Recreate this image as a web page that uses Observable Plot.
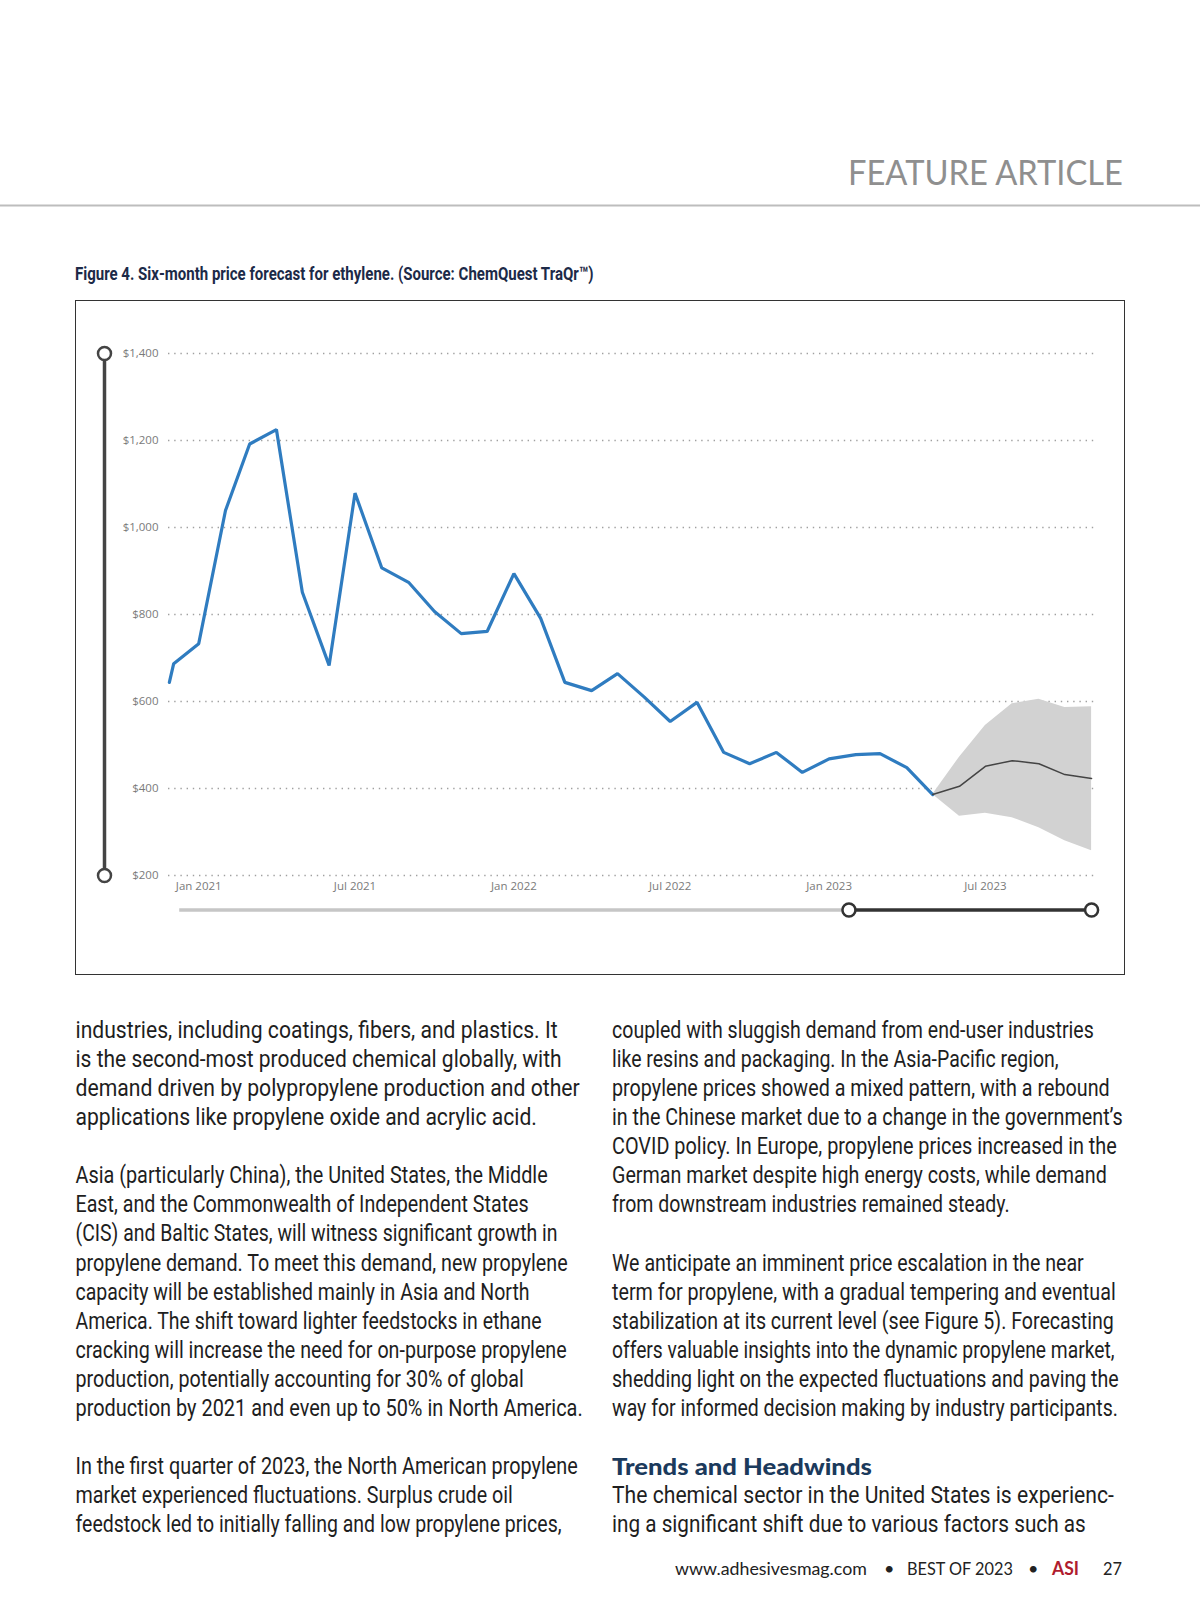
<!DOCTYPE html>
<html><head><meta charset="utf-8">
<script src="https://cdn.jsdelivr.net/npm/d3@7"></script>
<script src="https://cdn.jsdelivr.net/npm/@observablehq/plot@0.6"></script>
<style>
html,body{margin:0;padding:0;background:#fff;}
#page{position:relative;width:1200px;height:1613px;overflow:hidden;background:#fff;}
#text{position:absolute;left:0;top:0;}
#frame{position:absolute;left:75px;top:300px;width:1050px;height:675px;box-sizing:border-box;border:1px solid #333;}
#chart{position:absolute;left:75px;top:300px;}
</style></head><body>
<div id="page"><svg id="text" width="1200" height="1613"></svg><div id="frame"></div><div id="chart"></div></div>
<script>
// ---- chart data ----
const actualDates = ["2020-11-28","2020-12-03","2021-01-01","2021-02-01","2021-03-01","2021-04-01","2021-05-01","2021-06-01","2021-07-01","2021-08-01","2021-09-01","2021-10-01","2021-11-01","2021-12-01","2022-01-01","2022-02-01","2022-03-01","2022-04-01","2022-05-01","2022-06-01","2022-07-01","2022-08-01","2022-09-01","2022-10-01","2022-11-01","2022-12-01","2023-01-01","2023-02-01","2023-03-01","2023-04-01","2023-05-01"];
const actualValues = [644, 687, 733, 1039, 1192, 1225, 851, 683, 1079, 907, 874, 807, 756, 761, 894, 791, 644, 625, 664, 610, 554, 598, 483, 457, 483, 437, 468, 478, 480, 448, 386];
const forecastDates = ["2023-05-01","2023-06-01","2023-07-01","2023-08-01","2023-09-01","2023-10-01","2023-11-01"];
const forecastValues = [386, 405, 451, 464, 457, 432, 423];
const forecastUpper = [386, 472, 545, 595, 605, 586, 588];
const forecastLower = [386, 336, 343, 333, 310, 280, 257];
const yTicks = [200, 400, 600, 800, 1000, 1200, 1400];
const xTickDates = ["2021-01-01","2021-07-01","2022-01-01","2022-07-01","2023-01-01","2023-07-01"];
const xDomain = ["2020-11-27","2023-11-09"];
const sliderDates = ["2020-12-10","2023-01-24","2023-11-01"];

const actual = actualDates.map((d,i)=>({date:new Date(d), value:actualValues[i]}));
const forecast = forecastDates.map((d,i)=>({date:new Date(d), value:forecastValues[i], upper:forecastUpper[i], lower:forecastLower[i]}));
const [sA, sB, sC] = sliderDates.map(d=>new Date(d));
const x0 = new Date(xDomain[0]);
const fmtY = d => "$" + d3.format(",")(d);

const chart = Plot.plot({
  width: 1048, height: 673,
  marginLeft: 93, marginRight: 25, marginTop: 53, marginBottom: 98,
  style: {fontFamily: "'Open Sans', 'Noto Sans', sans-serif", fontSize: "11.5px", color: "#7a7a7a", background: "transparent", overflow: "visible"},
  x: {type: "utc", domain: xDomain.map(d=>new Date(d))},
  y: {domain: [200, 1400]},
  marks: [
    Plot.gridY(yTicks, {stroke: "#a0a0a0", strokeOpacity: 1, strokeWidth: 1.4, strokeDasharray: "1.4,4.8"}),
    Plot.axisY(yTicks, {tickSize: 0, tickPadding: 10, tickFormat: fmtY, fill: "#7a7a7a"}),
    Plot.axisX(xTickDates.map(d=>new Date(d)), {tickSize: 0, tickPadding: 6, tickFormat: d3.utcFormat("%b %Y"), fill: "#7a7a7a"}),
    Plot.areaY(forecast, {x: "date", y1: "lower", y2: "upper", fill: "#d2d2d2"}),
    Plot.line(actual, {x: "date", y: "value", stroke: "#2f7cc0", strokeWidth: 3.2, strokeLinejoin: "miter"}),
    Plot.line(forecast, {x: "date", y: "value", stroke: "#444", strokeWidth: 1.5}),
    // vertical range slider (left)
    Plot.ruleX([x0], {y1: 200, y2: 1400, dx: -64, stroke: "#444", strokeWidth: 3.5}),
    Plot.dot([200, 1400], {x: () => x0, y: d => d, dx: -64, r: 6.5, fill: "white", stroke: "#444", strokeWidth: 2.5}),
    // horizontal range slider (bottom)
    Plot.ruleY([200], {x1: () => sA, x2: () => sB, dy: 34.5, stroke: "#c6c6c6", strokeWidth: 3.5}),
    Plot.ruleY([200], {x1: () => sB, x2: () => sC, dy: 34.5, stroke: "#333", strokeWidth: 3.5}),
    Plot.dot([sB, sC], {x: d => d, y: () => 200, dy: 34.5, r: 6.5, fill: "white", stroke: "#333", strokeWidth: 2.5})
  ]
});
document.getElementById("chart").appendChild(chart);

// ---- page text ----
const NS = "http://www.w3.org/2000/svg";
const svg = document.getElementById("text");
// place text with its left edge at x and baseline at y; squeeze horizontally to end at x2
function txt(s, x, x2, y, opts) {
  const t = document.createElementNS(NS, "text");
  t.textContent = s;
  t.setAttribute("x", 0); t.setAttribute("y", 0);
  for (const k in opts) t.setAttribute(k, opts[k]);
  svg.appendChild(t);
  let sx = 1;
  if (x2 != null) {
    const w = t.getComputedTextLength();
    if (w > 0) sx = (x2 - x) / w;
  }
  t.setAttribute("transform", `translate(${x},${y}) scale(${sx},1)`);
  return t;
}
// header
txt("FEATURE ARTICLE", 848, 1123, 185, {"font-family": "Lato, 'Noto Sans', sans-serif", "font-size": 34, fill: "#8f8f8f"});
const rule = document.createElementNS(NS, "line");
rule.setAttribute("x1", 0); rule.setAttribute("x2", 1200); rule.setAttribute("y1", 205.5); rule.setAttribute("y2", 205.5);
rule.setAttribute("stroke", "#bdbdbd"); rule.setAttribute("stroke-width", 2);
svg.appendChild(rule);
// caption
txt("Figure 4. Six-month price forecast for ethylene. (Source: ChemQuest TraQr\u2122)", 75, 594, 280,
  {"font-family": "Roboto, sans-serif", "font-size": 19, "font-weight": "bold", fill: "#1c2a48"});

const bodyFont = {"font-family": "Roboto, sans-serif", "font-size": 23.5, fill: "#1e1e1e"};
const leftLines = [
  [0, "industries, including coatings, fibers, and plastics. It", 558],
  [1, "is the second-most produced chemical globally, with", 562],
  [2, "demand driven by polypropylene production and other", 580],
  [3, "applications like propylene oxide and acrylic acid.", 537],
  [5, "Asia (particularly China), the United States, the Middle", 548],
  [6, "East, and the Commonwealth of Independent States", 529],
  [7, "(CIS) and Baltic States, will witness significant growth in", 558],
  [8, "propylene demand. To meet this demand, new propylene", 568],
  [9, "capacity will be established mainly in Asia and North", 530],
  [10, "America. The shift toward lighter feedstocks in ethane", 542],
  [11, "cracking will increase the need for on-purpose propylene", 567],
  [12, "production, potentially accounting for 30% of global", 524],
  [13, "production by 2021 and even up to 50% in North America.", 583],
  [15, "In the first quarter of 2023, the North American propylene", 578],
  [16, "market experienced fluctuations. Surplus crude oil", 513],
  [17, "feedstock led to initially falling and low propylene prices,", 562]
];
const rightLines = [
  [0, "coupled with sluggish demand from end-user industries", 1094],
  [1, "like resins and packaging. In the Asia-Pacific region,", 1059],
  [2, "propylene prices showed a mixed pattern, with a rebound", 1110],
  [3, "in the Chinese market due to a change in the government\u2019s", 1123],
  [4, "COVID policy. In Europe, propylene prices increased in the", 1117],
  [5, "German market despite high energy costs, while demand", 1107],
  [6, "from downstream industries remained steady.", 1010],
  [8, "We anticipate an imminent price escalation in the near", 1084],
  [9, "term for propylene, with a gradual tempering and eventual", 1116],
  [10, "stabilization at its current level (see Figure 5). Forecasting", 1114],
  [11, "offers valuable insights into the dynamic propylene market,", 1115],
  [12, "shedding light on the expected fluctuations and paving the", 1119],
  [13, "way for informed decision making by industry participants.", 1118],
  [16, "The chemical sector in the United States is experienc-", 1114],
  [17, "ing a significant shift due to various factors such as", 1086]
];
const base0 = 1037.7, pitch = 29.1;
leftLines.forEach(([i, s, e]) => txt(s, 75.5, e, base0 + i * pitch, bodyFont));
rightLines.forEach(([i, s, e]) => txt(s, 612, e, base0 + i * pitch, bodyFont));
txt("Trends and Headwinds", 612, 872, base0 + 15 * pitch + 1,
  {"font-family": "Lato, 'Noto Sans', sans-serif", "font-size": 23, "font-weight": "900", fill: "#1b3a5c"});

// footer
const footFont = {"font-family": "Lato, 'Noto Sans', sans-serif", "font-size": 18, fill: "#222"};
const fy = 1575;
txt("www.adhesivesmag.com", 675, 867, fy, footFont);
txt("\u2022", 884, null, fy, footFont);
txt("BEST OF 2023", 907, 1013, fy, footFont);
txt("\u2022", 1028, null, fy, footFont);
txt("ASI", 1052, 1079, fy, Object.assign({}, footFont, {"font-weight": "bold", fill: "#b01c2e"}));
txt("27", 1103, 1122, fy, footFont);
</script>
</body></html>
